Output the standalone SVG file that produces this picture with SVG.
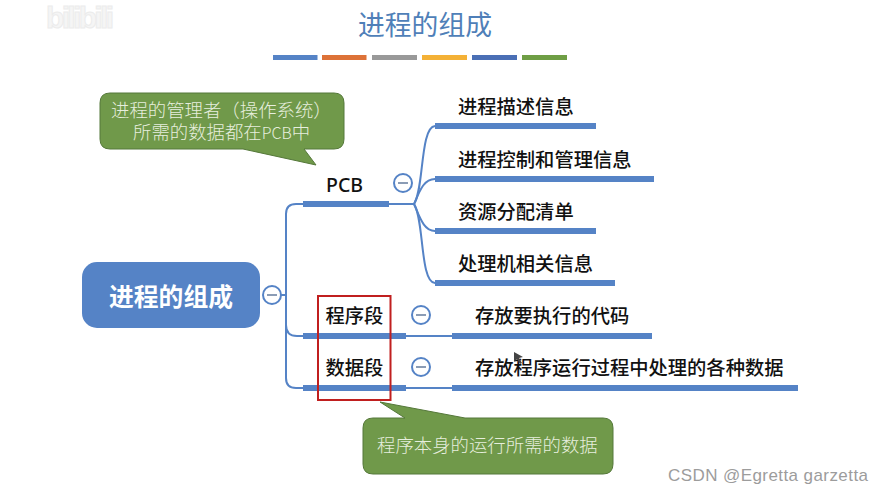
<svg xmlns="http://www.w3.org/2000/svg" width="884" height="496" viewBox="0 0 884 496">
<style>
text{font-family:"Noto Sans CJK SC","Noto Sans",sans-serif}
.t{font-size:19.3px;fill:#111;font-weight:500}
.c{font-size:18.4px;fill:#e6eedd;font-weight:300}
.bar{fill:#5583c6}
.link{fill:none;stroke:#5583c6;stroke-width:2}
.callout{fill:#70994a;stroke:#55783a;stroke-width:1}
.cc circle{fill:#fff;stroke:#5583c6;stroke-width:2}
.cc rect{fill:#8b9cb5}
</style>
<rect width="884" height="496" fill="#fff"/>
<text x="46" y="28" font-size="30" font-weight="700" style="font-family:'Liberation Sans',sans-serif" fill="#f5f5f5" stroke="#ececec" stroke-width="1" textLength="68">bilibili</text>
<text id="title" x="425" y="35" text-anchor="middle" font-size="26.8" fill="#4f7fb8">进程的组成</text>
<g id="title-bars">
<rect x="273" y="55" width="44.500" height="5" fill="#5583c6"/>
<rect x="322" y="55" width="44.500" height="5" fill="#dd7238"/>
<rect x="372" y="55" width="45" height="5" fill="#999"/>
<rect x="422" y="55" width="45" height="5" fill="#f4b136"/>
<rect x="472" y="55" width="45" height="5" fill="#4a6fb5"/>
<rect x="522" y="55" width="45" height="5" fill="#6f9e45"/>
</g>
<g id="connectors">
<path class="link" d="M281 295H286"/>
<path class="link" d="M303 204H296Q286 204 286 214V378Q286 388 296 388H303"/>
<path class="link" d="M286 325Q286 336 297 336H303"/>
<path class="link" d="M389 204H414"/>
<path class="link" d="M414 204C424 190 420 127 435 126"/>
<path class="link" d="M414 204C420 190 424 179 435 179"/>
<path class="link" d="M414 204C420 218 424 231 435 231"/>
<path class="link" d="M414 204C424 218 420 283 435 283"/>
<path class="link" d="M406 336H452"/>
<path class="link" d="M406 388H452"/>
</g>
<g id="root">
<rect x="82" y="262" width="178" height="66" rx="15" fill="#5583c6"/>
<text x="171" y="306" text-anchor="middle" font-size="24.800" font-weight="700" fill="#fff">进程的组成</text>
<g class="cc"><circle cx="272" cy="295" r="9"/><rect x="267" y="294" width="10" height="2"/></g>
</g>
<g id="pcb">
<rect class="bar" x="303" y="201" width="86" height="6"/>
<text x="326" y="192" font-size="19.500" font-weight="500" fill="#111" style="font-family:'Noto Sans',sans-serif">PCB</text>
<g class="cc"><circle cx="403" cy="183" r="9"/><rect x="398" y="182" width="10" height="2"/></g>
</g>
<g id="pcb-1"><rect class="bar" x="435" y="123" width="161" height="6"/><text class="t" x="458" y="114">进程描述信息</text></g>
<g id="pcb-2"><rect class="bar" x="435" y="176" width="219" height="6"/><text class="t" x="458" y="167">进程控制和管理信息</text></g>
<g id="pcb-3"><rect class="bar" x="435" y="228" width="161" height="6"/><text class="t" x="458" y="219">资源分配清单</text></g>
<g id="pcb-4"><rect class="bar" x="435" y="280" width="180" height="6"/><text class="t" x="458" y="271">处理机相关信息</text></g>
<g id="code">
<rect class="bar" x="303" y="333" width="103" height="6"/>
<text class="t" x="325.500" y="323">程序段</text>
<g class="cc"><circle cx="421" cy="315" r="9"/><rect x="416" y="314" width="10" height="2"/></g>
</g>
<g id="code-1"><rect class="bar" x="452" y="333" width="200" height="6"/><text class="t" x="475" y="323">存放要执行的代码</text></g>
<g id="data">
<rect class="bar" x="303" y="385" width="103" height="6"/>
<text class="t" x="325.500" y="375">数据段</text>
<g class="cc"><circle cx="421" cy="367" r="9"/><rect x="416" y="366" width="10" height="2"/></g>
</g>
<g id="data-1"><rect class="bar" x="452" y="385" width="346" height="6"/><text class="t" x="475" y="375">存放程序运行过程中处理的各种数据</text></g>
<rect id="highlight" x="318" y="296" width="72.500" height="104" fill="none" stroke="#c01f1f" stroke-width="2"/>
<g id="callout-1">
<path class="callout" d="M110 93H334Q344 93 344 103V139Q344 149 334 149H304L316 165L243 149H110Q100 149 100 139V103Q100 93 110 93Z"/>
<text class="c" x="111" y="117">进程的管理者（操作系统）</text>
<text class="c" x="133" y="139">所需的数据都在<tspan font-size="16">PCB</tspan>中</text>
</g>
<g id="callout-2">
<path class="callout" d="M373 418H405L380 402L465 418H603Q613 418 613 428V464Q613 474 603 474H373Q363 474 363 464V428Q363 418 373 418Z"/>
<text class="c" x="377" y="452">程序本身的运行所需的数据</text>
</g>
<path id="cursor" d="M514 352L514 362L517 359L520 364L522 363L519 358L523 357Z" fill="#444"/>
<text id="watermark" x="668" y="481" font-size="17" textLength="200" fill="#9c9c9c" style="font-family:'Liberation Sans',sans-serif">CSDN @Egretta garzetta</text>
</svg>
